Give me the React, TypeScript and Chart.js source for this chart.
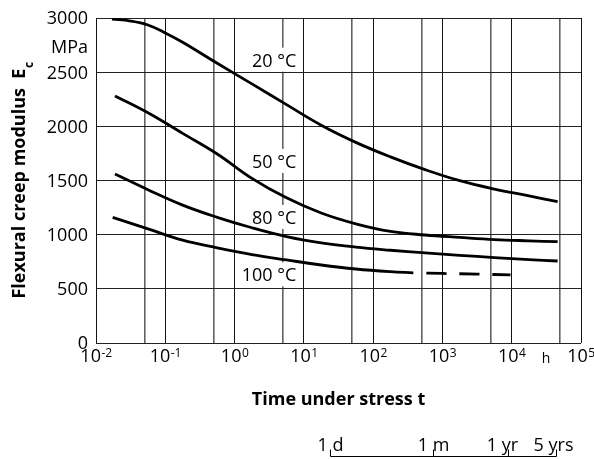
import React, { useEffect, useRef } from 'react';
import { Chart, registerables } from 'chart.js';

Chart.register(...registerables);

// ---- data (time in hours, modulus in MPa) ----
const T20 = [0.017, 0.0316, 0.0562, 0.1, 0.178, 0.562, 1.78, 5.62, 17.8, 56.2, 178, 562, 1778, 5623, 17783, 46000];
const E20 = [2990, 2972, 2935, 2862, 2776, 2582, 2392, 2200, 2010, 1852, 1718, 1600, 1498, 1421, 1358, 1304];

const T50 = [0.0188, 0.0562, 0.178, 0.562, 1.78, 5.62, 17.8, 56.2, 178, 562, 1778, 5623, 17783, 46000];
const E50 = [2280, 2125, 1935, 1745, 1520, 1340, 1200, 1100, 1030, 997, 975, 955, 943, 935];

const T80 = [0.0188, 0.0562, 0.178, 0.562, 1.78, 5.62, 17.8, 56.2, 178, 562, 1778, 5623, 17783, 46000];
const E80 = [1560, 1415, 1273, 1160, 1064, 983, 925, 885, 856, 831, 809, 789, 770, 757];

const T100 = [0.0174, 0.0562, 0.178, 0.562, 1.78, 5.62, 17.8, 56.2, 178, 380];
const E100 = [1160, 1053, 949, 878, 816, 767, 720, 683, 658, 648];

const T100_EXTRAP = [380, 1000, 3162, 9600];
const E100_EXTRAP = [648, 642, 636, 628];

const CURVE_LABELS = ['20 °C', '50 °C', '80 °C', '100 °C'];
const CURVE_LABEL_T = [7.8, 7.8, 7.8, 7.8];
const CURVE_LABEL_E = [2610, 1675, 1158, 628];

const Y_TICKS = [0, 500, 1000, 1500, 2000, 2500, 3000];
const Y_UNIT = 'MPa';
const Y_UNIT_AT = 2740;
const X_DECADES = [-2, -1, 0, 1, 2, 3, 4, 5];
const X_GRID = [0.01, 0.05, 0.1, 0.5, 1, 5, 10, 50, 100, 500, 1000, 5000, 10000, 50000, 100000];
const X_UNIT = 'h';
const X_UNIT_AT = 31200;

const Y_TITLE_MAIN = 'Flexural creep modulus  E';
const Y_TITLE_SUB = 'c';
const X_TITLE = 'Time under stress t';

const TIME_MARK_LABELS = ['1 d', '1 m', '1 yr', '5 yrs'];
const TIME_MARK_HOURS = [24, 720, 8760, 43800];
const TIME_MARK_DX = [0, 0, -6, -3];

const FONT = '"Open Sans", "Noto Sans", sans-serif';

const pts = (xs: number[], ys: number[]) => xs.map((x, i) => ({ x, y: ys[i] }));

const annotationPlugin = {
  id: 'annot',
  beforeDatasetsDraw(chart: any) {
    const ctx = chart.ctx;
    const xs = chart.scales.x;
    const ys = chart.scales.y;
    ctx.save();
    ctx.font = `18px ${FONT}`;
    ctx.fillStyle = '#fff';
    CURVE_LABELS.forEach((txt, i) => {
      const xr = xs.getPixelForValue(CURVE_LABEL_T[i]);
      const base = ys.getPixelForValue(CURVE_LABEL_E[i]) + 6.4;
      const w = ctx.measureText(txt).width;
      ctx.fillRect(xr - w - 3, base - 19, w + 6, 24);
    });
    ctx.restore();
  },
  afterDraw(chart: any) {
    const ctx = chart.ctx;
    const xs = chart.scales.x;
    const ys = chart.scales.y;
    const area = chart.chartArea;
    ctx.save();
    ctx.fillStyle = '#000';
    ctx.strokeStyle = '#000';
    ctx.textBaseline = 'alphabetic';

    // curve labels
    ctx.font = `18px ${FONT}`;
    ctx.textAlign = 'right';
    CURVE_LABELS.forEach((txt, i) => {
      ctx.fillText(txt, xs.getPixelForValue(CURVE_LABEL_T[i]), ys.getPixelForValue(CURVE_LABEL_E[i]) + 6.4);
    });

    // y tick labels
    ctx.textAlign = 'right';
    Y_TICKS.forEach((v) => {
      ctx.fillText(String(v), area.left - 8, ys.getPixelForValue(v) + 6.4);
    });
    ctx.fillText(Y_UNIT, area.left - 8, ys.getPixelForValue(Y_UNIT_AT) + 6.4);

    // x tick labels with superscript exponents
    const base = area.bottom + 19;
    X_DECADES.forEach((d) => {
      ctx.font = `18px ${FONT}`;
      const w1 = ctx.measureText('10').width;
      ctx.font = `12px ${FONT}`;
      const exp = String(d);
      const w2 = ctx.measureText(exp).width;
      const cx = xs.getPixelForValue(Math.pow(10, d));
      const left = cx - (w1 + w2) / 2;
      ctx.textAlign = 'left';
      ctx.font = `18px ${FONT}`;
      ctx.fillText('10', left, base);
      ctx.font = `12px ${FONT}`;
      ctx.fillText(exp, left + w1 + 0.5, base - 5.5);
    });
    ctx.font = `14px ${FONT}`;
    ctx.textAlign = 'center';
    ctx.fillText(X_UNIT, xs.getPixelForValue(X_UNIT_AT), base + 1);

    // x title
    ctx.font = `bold 18px ${FONT}`;
    ctx.textAlign = 'center';
    ctx.fillText(X_TITLE, (area.left + area.right) / 2, area.bottom + 62);

    // y title (rotated) with subscript
    ctx.save();
    ctx.font = `bold 18px ${FONT}`;
    const wm = ctx.measureText(Y_TITLE_MAIN).width;
    ctx.font = `bold 12px ${FONT}`;
    const ws = ctx.measureText(Y_TITLE_SUB).width;
    ctx.translate(25, (area.top + area.bottom) / 2);
    ctx.rotate(-Math.PI / 2);
    const start = -(wm + ws) / 2;
    ctx.textAlign = 'left';
    ctx.font = `bold 18px ${FONT}`;
    ctx.fillText(Y_TITLE_MAIN, start, 0);
    ctx.font = `bold 12px ${FONT}`;
    ctx.fillText(Y_TITLE_SUB, start + wm + 0.5, 8);
    ctx.restore();

    // time marks bracket
    const lineY = area.bottom + 113.5;
    const xsMarks = TIME_MARK_HOURS.map((h) => Math.round(xs.getPixelForValue(h)) + 0.5);
    ctx.lineWidth = 1;
    ctx.beginPath();
    ctx.moveTo(xsMarks[0], lineY);
    ctx.lineTo(xsMarks[xsMarks.length - 1], lineY);
    xsMarks.forEach((x) => {
      ctx.moveTo(x, lineY);
      ctx.lineTo(x, lineY - 7);
    });
    ctx.stroke();
    ctx.font = `18px ${FONT}`;
    ctx.textAlign = 'center';
    TIME_MARK_LABELS.forEach((t, i) => {
      ctx.fillText(t, xsMarks[i] + TIME_MARK_DX[i], area.bottom + 108);
    });

    ctx.restore();
  },
};

export default function App() {
  const ref = useRef<HTMLCanvasElement | null>(null);
  useEffect(() => {
    if (!ref.current) return;
    const lineStyle = {
      borderColor: '#000',
      borderWidth: 2.8,
      pointRadius: 0,
      fill: false,
      tension: 0.4,
    };
    const chart = new Chart(ref.current, {
      type: 'line',
      data: {
        datasets: [
          { label: '20 °C', data: pts(T20, E20), ...lineStyle },
          { label: '50 °C', data: pts(T50, E50), ...lineStyle },
          { label: '80 °C', data: pts(T80, E80), ...lineStyle },
          { label: '100 °C', data: pts(T100, E100), ...lineStyle },
          {
            label: '100 °C (extrapolated)',
            data: pts(T100_EXTRAP, E100_EXTRAP),
            ...lineStyle,
            borderDash: [20, 13],
            borderDashOffset: 20,
            borderCapStyle: 'butt',
          },
        ],
      },
      options: {
        responsive: false,
        maintainAspectRatio: false,
        animation: false,
        layout: { padding: { left: 96, top: 18, right: 13, bottom: 116 } },
        plugins: { legend: { display: false }, tooltip: { enabled: false } },
        scales: {
          x: {
            type: 'logarithmic',
            min: 0.01,
            max: 100000,
            afterBuildTicks: (s: any) => {
              s.ticks = X_GRID.map((v) => ({ value: v }));
            },
            ticks: { display: false },
            grid: {
              drawTicks: false,
              color: (c: any) => {
                const v = c.tick ? c.tick.value : 1;
                const l = Math.log10(v);
                return Math.abs(l - Math.round(l)) < 1e-6 ? '#111' : 'rgba(0,0,0,0.62)';
              },
              lineWidth: (c: any) => {
                const v = c.tick ? c.tick.value : 1;
                const l = Math.log10(v);
                return Math.abs(l - Math.round(l)) < 1e-6 ? 1 : 1.6;
              },
            },
            border: { display: false },
          },
          y: {
            type: 'linear',
            min: 0,
            max: 3000,
            ticks: { display: false, stepSize: 500 },
            grid: { drawTicks: false, color: '#222', lineWidth: 1 },
            border: { display: false },
          },
        },
      },
      plugins: [annotationPlugin],
    });
    return () => chart.destroy();
  }, []);
  return (
    <div style={{ position: 'fixed', left: 0, top: 0, width: 594, height: 459, background: '#fff' }}>
      <canvas ref={ref} width={594} height={459} style={{ display: 'block', width: 594, height: 459 }} />
    </div>
  );
}
